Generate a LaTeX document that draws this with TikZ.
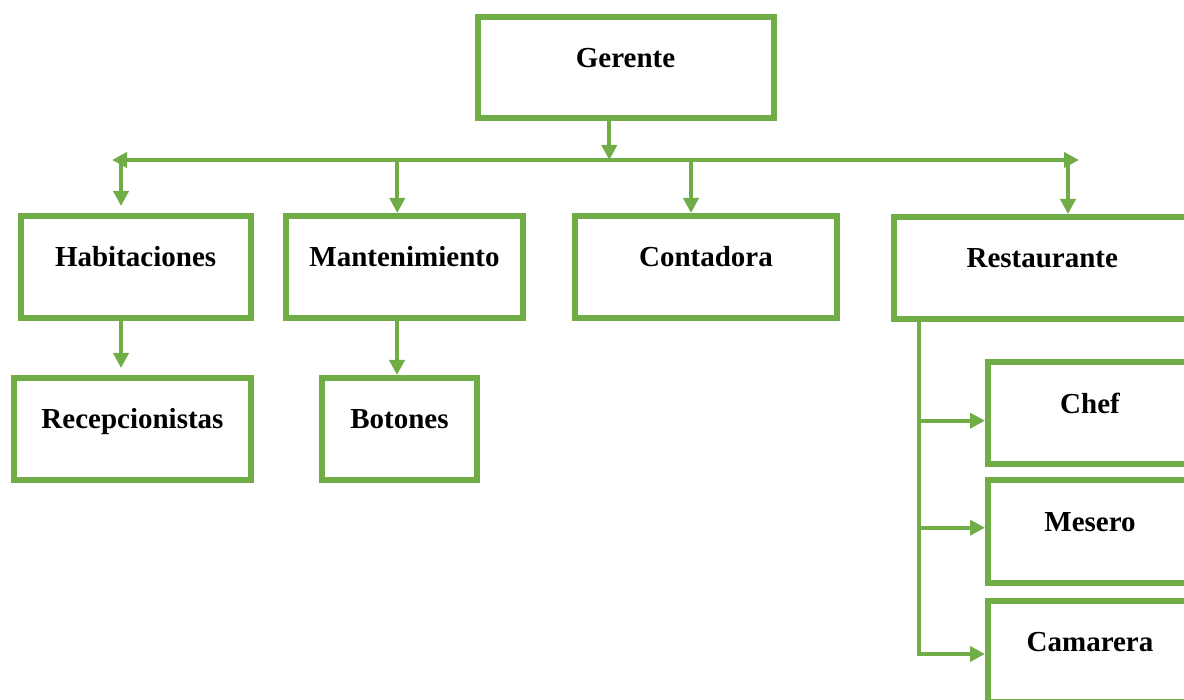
\documentclass[tikz,border=0pt]{standalone}
\usepackage{fontspec}
\setmainfont{Liberation Serif}
\usetikzlibrary{arrows.meta,positioning}
\definecolor{orggreen}{HTML}{70AD47}

\tikzset{
  unit/.style={draw=orggreen, line width=6pt, inner sep=0pt,
    minimum height=102pt, text height=20pt, text depth=20pt,
    font=\fontsize{29}{34}\selectfont\bfseries},
  link/.style={draw=orggreen, line width=4pt,
    -{Triangle[length=15pt,width=15pt]}},
  bus/.style={link, {Triangle[length=15pt,width=15pt]}-{Triangle[length=15pt,width=15pt]}}
}

\begin{document}
\begin{tikzpicture}[x=1pt,y=-1pt]
        \clip (0,0) rectangle (1184,700);

        % top
        \node[unit, minimum width=296pt, minimum height=101.5pt] (ger) at (625.5,67.75) {Gerente};

        % second row
        \node[unit, minimum width=230pt] (hab) at (135.6,267) {Habitaciones};
        \node[unit, minimum width=237pt] (man) at (404.5,267) {Mantenimiento};
        \node[unit, minimum width=262pt] (con) at (706,267) {Contadora};
        \node[unit, minimum width=296pt] (res) at (1042.3,268) {Restaurante};

        % third row
        \node[unit, minimum width=237pt] (rec) at (132.5,429) {Recepcionistas};
        \node[unit, minimum width=155pt] (bot) at (399.5,429) {Botones};

        % restaurant staff
        \node[unit, minimum width=204pt, minimum height=101.5pt] (chef) at (1090,413.25) {Chef};
        \node[unit, minimum width=204pt] (mes) at (1090,531.5) {Mesero};
        \node[unit, minimum width=204pt, minimum height=101pt] (cam) at (1090,651) {Camarera};

        \coordinate (busL) at (112,160);
        \coordinate (busR) at (1079,160);
        \coordinate (trunk) at (919.3,654);
        \coordinate (chefbr) at (919.3,420.7);
        \coordinate (mesbr) at (919.3,527.7);

        \draw[bus] (busL) -- (busR);
        \draw[link] (ger.south -| 609.3,0) -- (busL -| 609.3,0);

        \draw[link, shorten >=7pt] (busL -| 121,0) -- (hab.north -| 121,0);
        \draw[link] (busL -| 397.3,0) -- (man.north -| 397.3,0);
        \draw[link] (busL -| 691,0) -- (con.north -| 691,0);
        \draw[link] (busL -| 1068,0) -- (res.north -| 1068,0);

        \draw[link, shorten >=7pt] (hab.south -| 121,0) -- (rec.north -| 121,0);
        \draw[link] (man.south -| 397,0) -- (bot.north -| 397,0);

        \draw[link] (res.south -| trunk) -- (trunk) -- (trunk -| cam.west);
        \draw[link] (chefbr) -- (chefbr -| chef.west);
        \draw[link] (mesbr) -- (mesbr -| mes.west);
\end{tikzpicture}
\end{document}
